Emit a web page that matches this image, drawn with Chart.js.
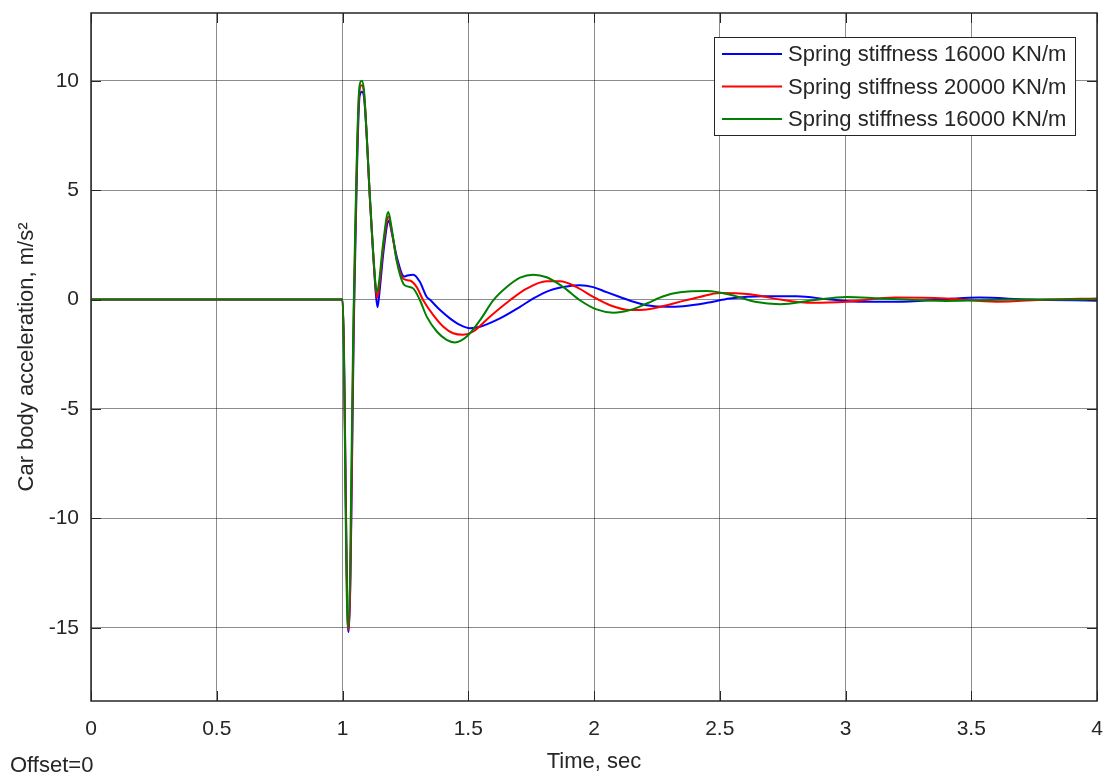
<!DOCTYPE html>
<html>
<head>
<meta charset="utf-8">
<script src="https://cdn.jsdelivr.net/npm/chart.js@4/dist/chart.umd.min.js"></script>
<style>
  html, body { margin: 0; padding: 0; background: #fff; }
  #wrap { width: 1106px; height: 776px; }
</style>
</head>
<body>
<div id="wrap"><canvas id="myChart" width="1106" height="776"></canvas></div>
<script>
// time (s) and car body acceleration (m/s^2)
const timeBlue = [0, 1.0, 1.022, 1.025, 1.047, 1.068, 1.077, 1.086, 1.112, 1.133, 1.139, 1.145, 1.164, 1.184, 1.197, 1.217,
  1.245, 1.258, 1.282, 1.308, 1.335, 1.347, 1.388, 1.427, 1.467, 1.507, 1.547, 1.626, 1.706, 1.759, 1.825, 1.891, 1.944,
  1.997, 2.05, 2.103, 2.157, 2.21, 2.29, 2.355, 2.448, 2.54, 2.673, 2.806, 2.94, 3.07, 3.2, 3.4, 3.53, 3.73, 4.0];
const accBlue = [0, 0, -15.0, -15.2, 0, 9.3, 9.5, 9.2, 4.0, 0.2, -0.35, 0.1, 2.3, 3.6, 3.0, 1.9,
  1.05, 1.1, 1.14, 0.8, 0.12, 0.0, -0.48, -0.86, -1.16, -1.31, -1.24, -0.86, -0.33, 0.05, 0.42, 0.6, 0.65,
  0.57, 0.34, 0.12, -0.1, -0.26, -0.33, -0.3, -0.15, 0.05, 0.15, 0.15, 0.0, -0.1, -0.1, 0.02, 0.09, 0.0, -0.05];

const timeRed = [0, 1.0, 1.022, 1.025, 1.046, 1.067, 1.076, 1.085, 1.111, 1.133, 1.138, 1.144, 1.163, 1.183, 1.196, 1.216,
  1.242, 1.268, 1.295, 1.321, 1.361, 1.401, 1.44, 1.48, 1.52, 1.586, 1.666, 1.732, 1.811, 1.865, 1.931, 1.997, 2.064,
  2.143, 2.21, 2.29, 2.355, 2.42, 2.5, 2.62, 2.74, 2.87, 3.005, 3.2, 3.4, 3.6, 3.8, 4.0];
const accRed = [0, 0, -15.0, -15.1, 0, 9.5, 9.8, 9.5, 4.2, 0.4, 0.1, 0.4, 2.5, 3.8, 3.1, 1.8,
  0.95, 0.87, 0.57, -0.03, -0.71, -1.24, -1.54, -1.61, -1.46, -0.78, -0.03, 0.5, 0.84, 0.84, 0.57, 0.12, -0.26,
  -0.48, -0.45, -0.26, -0.06, 0.12, 0.3, 0.24, 0.0, -0.15, -0.1, 0.09, 0.05, -0.1, 0.0, 0.05];

const timeGreen = [0, 1.0, 1.021, 1.023, 1.045, 1.067, 1.076, 1.085, 1.11, 1.132, 1.137, 1.143, 1.162, 1.182, 1.195, 1.215,
  1.242, 1.258, 1.282, 1.308, 1.335, 1.375, 1.414, 1.447, 1.494, 1.547, 1.6, 1.653, 1.706, 1.759, 1.812, 1.878, 1.944,
  2.01, 2.077, 2.143, 2.21, 2.276, 2.342, 2.448, 2.55, 2.64, 2.74, 2.87, 3.005, 3.137, 3.4, 3.67, 4.0];
const accGreen = [0, 0, -15.0, -15.0, 0, 9.7, 10.0, 9.6, 4.5, 0.6, 0.35, 0.6, 2.6, 4.0, 3.3, 1.8,
  0.72, 0.6, 0.5, -0.03, -0.78, -1.46, -1.84, -1.96, -1.69, -0.94, -0.03, 0.57, 1.0, 1.14, 1.02, 0.57, -0.03,
  -0.45, -0.6, -0.48, -0.18, 0.15, 0.33, 0.39, 0.2, -0.1, -0.21, -0.03, 0.12, 0.05, -0.06, 0.0, 0.0];

const seriesNames = ['Spring stiffness 16000 KN/m', 'Spring stiffness 20000 KN/m', 'Spring stiffness 16000 KN/m'];
const seriesColors = ['#0000ff', '#ff0000', '#008000'];

const xTicks = [0, 0.5, 1, 1.5, 2, 2.5, 3, 3.5, 4];
const yTicks = [-15, -10, -5, 0, 5, 10];

const FONT = 'Liberation Sans, Arial, Helvetica, sans-serif';
const TXT = '#262626';
const GRID = 'rgba(0,0,0,0.45)';

function pts(t, v) {
  return t.map(function (x, i) { return { x: x, y: v[i] }; });
}

// box, inward ticks, legend and the "Offset=0" note
const scopeDecor = {
  id: 'scopeDecor',
  afterDraw(chart) {
    const ctx = chart.ctx;
    const a = chart.chartArea;
    const x = chart.scales.x, y = chart.scales.y;
    ctx.save();
    ctx.strokeStyle = TXT;
    ctx.lineWidth = 1;
    ctx.beginPath();
    xTicks.forEach(function (v) {
      const px = Math.round(x.getPixelForValue(v)) + 0.5;
      ctx.moveTo(px, a.bottom); ctx.lineTo(px, a.bottom - 10);
      ctx.moveTo(px, a.top); ctx.lineTo(px, a.top + 10);
    });
    yTicks.forEach(function (v) {
      const py = Math.round(y.getPixelForValue(v)) + 0.5;
      ctx.moveTo(a.left, py); ctx.lineTo(a.left + 10, py);
      ctx.moveTo(a.right, py); ctx.lineTo(a.right - 10, py);
    });
    ctx.stroke();

    ctx.lineWidth = 1.5;
    ctx.strokeRect(a.left, a.top, a.right - a.left, a.bottom - a.top);

    // legend
    const lx = 714, ly = 37, lw = 361, lh = 98;
    ctx.fillStyle = '#fff';
    ctx.fillRect(lx, ly, lw, lh);
    ctx.lineWidth = 1;
    ctx.strokeStyle = TXT;
    ctx.strokeRect(lx + 0.5, ly + 0.5, lw, lh);
    ctx.font = '22px ' + FONT;
    ctx.textBaseline = 'middle';
    ctx.textAlign = 'left';
    chart.data.datasets.forEach(function (ds, i) {
      const ry = 54 + i * 32.5;
      ctx.strokeStyle = ds.borderColor;
      ctx.lineWidth = 2;
      ctx.beginPath();
      ctx.moveTo(722, ry); ctx.lineTo(782, ry);
      ctx.stroke();
      ctx.fillStyle = TXT;
      ctx.fillText(ds.label, 788, ry + 1);
    });

    ctx.fillStyle = TXT;
    ctx.font = '22px ' + FONT;
    ctx.textBaseline = 'middle';
    ctx.fillText('Offset=0', 10, 766);
    ctx.restore();
  }
};

const config = {
  type: 'line',
  data: {
    datasets: [
      { label: seriesNames[0], data: pts(timeBlue, accBlue), borderColor: seriesColors[0], order: 2 },
      { label: seriesNames[1], data: pts(timeRed, accRed), borderColor: seriesColors[1], order: 1 },
      { label: seriesNames[2], data: pts(timeGreen, accGreen), borderColor: seriesColors[2], order: 0 }
    ]
  },
  options: {
    responsive: false,
    animation: false,
    parsing: false,
    elements: {
      point: { radius: 0 },
      line: { borderWidth: 2, cubicInterpolationMode: 'monotone', fill: false }
    },
    layout: { padding: { left: 0, top: 13, right: 9, bottom: 0 } },
    plugins: {
      legend: { display: false },
      tooltip: { enabled: false }
    },
    scales: {
      x: {
        type: 'linear',
        min: 0,
        max: 4,
        afterFit: function (s) { s.height = 75; s.paddingLeft = 0; s.paddingRight = 0; },
        afterBuildTicks: function (s) { s.ticks = xTicks.map(function (v) { return { value: v }; }); },
        grid: { color: GRID, lineWidth: 1, drawTicks: false },
        border: { display: false },
        ticks: {
          padding: 16,
          maxRotation: 0,
          autoSkip: false,
          color: TXT,
          font: { family: FONT, size: 21 },
          callback: function (v) { return String(v); }
        },
        title: {
          display: true,
          text: 'Time, sec',
          color: TXT,
          font: { family: FONT, size: 22 },
          padding: { top: 0, bottom: 1 }
        }
      },
      y: {
        type: 'linear',
        min: -18.35,
        max: 13.1,
        afterFit: function (s) { s.width = 91; s.paddingTop = 0; s.paddingBottom = 0; },
        afterBuildTicks: function (s) { s.ticks = yTicks.map(function (v) { return { value: v }; }); },
        grid: { color: GRID, lineWidth: 1, drawTicks: false },
        border: { display: false },
        ticks: {
          padding: 12,
          color: TXT,
          font: { family: FONT, size: 21 },
          callback: function (v) { return String(v); }
        },
        title: {
          display: true,
          text: 'Car body acceleration, m/s\u00b2',
          color: TXT,
          font: { family: FONT, size: 22 },
          padding: { top: 14, bottom: 0 }
        }
      }
    }
  },
  plugins: [scopeDecor]
};

const myChart = new Chart(document.getElementById('myChart'), config);
</script>
</body>
</html>
